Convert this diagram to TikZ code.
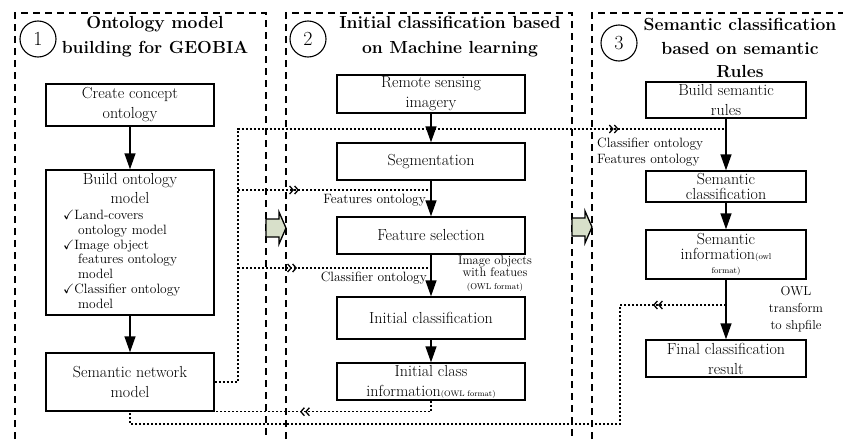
\documentclass[tikz,border=0pt]{standalone}
\usepackage{amssymb}
\usetikzlibrary{arrows.meta,decorations.markings,calc}
\definecolor{blockfill}{RGB}{216,224,202}
\tikzset{
  box/.style={draw, line width=1.4pt, rectangle, inner xsep=3pt, inner ysep=0pt, align=center, font=\fontsize{16}{20}\selectfont},
  flow/.style={line width=1.4pt, -{Triangle[length=16pt,width=11pt]}},
  dotline/.style={line width=1.1pt, dash pattern=on 2pt off 2pt},
  panel/.style={line width=1.3pt, dash pattern=on 7pt off 5pt},
  numcirc/.style={circle, draw, line width=1.1pt, minimum size=36pt, inner sep=0pt, font=\fontsize{20}{20}\selectfont},
  ttl/.style={font=\bfseries\fontsize{17.5}{25}\selectfont, align=center, inner sep=0pt},
  lab/.style={font=\fontsize{13.5}{16}\selectfont, inner sep=0pt},
  chev/.tip={Straight Barb[length=3.5pt,width=8pt,line width=1.3pt] Straight Barb[length=3.5pt,width=8pt,line width=1.3pt]},
  chevat/.style={postaction={decorate}, decoration={markings, mark=at position #1 with {\arrow{chev}}}},
  blockarrow/.style={draw, line width=1.3pt, fill=blockfill, line join=miter}
}
\begin{document}
\begin{tikzpicture}[x=1pt, y=-1pt]
\useasboundingbox (0,0) rectangle (843,439);

% panels
\draw[panel] (15,439) -- (15,13) -- (266,13) -- (266,439);
\draw[panel] (286,439) -- (286,13) -- (572,13) -- (572,439);
\draw[panel] (592,439) -- (592,13) -- (843,13);

% numbers and titles
\node[numcirc] (n1) at (38,39) {1};
\node[numcirc] (n2) at (308,39) {2};
\node[numcirc] (n3) at (619,43) {3};
\node[ttl] (t1) at (155,37) {Ontology model\\building for GEOBIA};
\node[ttl] (t2) at (450,37) {Initial classification based\\on Machine learning};
\node[ttl, font=\bfseries\fontsize{17.5}{23.5}\selectfont] (t3) at (740,48) {Semantic classification\\based on semantic\\Rules};

% block arrows
\draw[blockarrow] (266,219) -- (279,219) -- (279,212) -- (286,228) -- (279,244) -- (279,237) -- (266,237) -- cycle;
\draw[blockarrow] (572,218) -- (585,218) -- (585,211) -- (592,227) -- (585,243) -- (585,236) -- (572,236) -- cycle;

% panel 1
\node[box, minimum width=168pt, minimum height=42pt] (cco) at (130,105) {Create concept\\ontology};
\node[box, minimum width=168pt, minimum height=145pt] (bom) at (130,242.5) {};
\node[inner sep=0pt, align=center, anchor=north, font=\fontsize{16}{19}\selectfont] (bomt) at (130,173) {Build ontology\\model};
\node[inner sep=0pt, align=left, anchor=north west, font=\fontsize{13.5}{14.8}\selectfont] (boml) at (63,210)
  {$\checkmark$Land-covers\\\hspace*{15pt}ontology model\\$\checkmark$Image object\\\hspace*{15pt}features ontology\\\hspace*{15pt}model\\$\checkmark$Classifier ontology\\\hspace*{15pt}model};
\node[box, minimum width=168pt, minimum height=58pt] (snm) at (130,382) {Semantic network\\model};

% panel 2
\node[box, minimum width=188pt, minimum height=38pt] (rsi) at (431,94) {Remote sensing\\imagery};
\node[box, minimum width=188pt, minimum height=37pt] (seg) at (431,161.5) {Segmentation};
\node[box, minimum width=188pt, minimum height=37pt] (fs) at (431,235.5) {Feature selection};
\node[box, minimum width=188pt, minimum height=42pt] (ic) at (431,318) {Initial classification};
\node[box, minimum width=188pt, minimum height=37pt] (ici) at (431,381.5) {Initial class\\information{\fontsize{8}{9}\selectfont(OWL format)}};

% panel 3
\node[box, minimum width=160pt, minimum height=36pt] (bsr) at (726,100) {Build semantic\\rules};
\node[box, minimum width=160pt, minimum height=31pt, font=\fontsize{16}{15}\selectfont] (sc) at (726,186.5) {Semantic\\classification};
\node[box, minimum width=160pt, minimum height=49pt, font=\fontsize{16}{14.5}\selectfont] (si) at (726,254.5) {Semantic\\information{\fontsize{8.5}{9}\selectfont(owl}\\{\fontsize{8.5}{9}\selectfont format)}};
\node[box, minimum width=160pt, minimum height=37pt] (fcr) at (726,358.5) {Final classification\\result};

% flow arrows
\draw[flow] (cco) -- (bom);
\draw[flow] (bom) -- (snm);
\draw[flow] (rsi) -- (seg);
\draw[flow] (seg) -- (fs);
\draw[flow] (fs) -- (ic);
\draw[flow] (ic) -- (ici);
\draw[flow] (bsr) -- (sc);
\draw[flow] (sc) -- (si);
\draw[flow] (si) -- (fcr);

% labels
\node[lab, anchor=east] (flab) at (426,200) {Features ontology};
\node[lab, anchor=east] (clab) at (427,278) {Classifier ontology};
\node[inner sep=0pt, align=center, anchor=north, font=\fontsize{12.5}{12}\selectfont] (iolab) at (495,256) {Image objects\\with featues\\[1pt]{\fontsize{8.5}{9}\selectfont(OWL format)}};
\node[inner sep=0pt, align=center, font=\fontsize{13}{17}\selectfont] (owllab) at (796,309) {OWL\\transform\\to shpfile};
\node[lab, anchor=north west, align=left] (cflab) at (597,138) {Classifier ontology\\Features ontology};

% dotted connectors
\coordinate (ja) at (238,129);
\coordinate (jb) at (238,190);
\coordinate (jc) at (238,268);
\coordinate (jd) at (620,305);
\coordinate (je) at (620,424);
\draw[dotline, chevat=657pt] (snm.east) -| (ja) -- (bsr.south |- ja);
\draw[dotline, chevat=61pt] (jb) -- (seg.south |- jb);
\draw[dotline, chevat=59pt] (jc) -- (fs.south |- jc);
\draw[dotline, chevat=73pt] (si.south |- jd) -- (jd) -- (je) -| (snm.south);
\draw[dotline, chevat=142pt] (ici.south) |- (snm.south east);
\end{tikzpicture}
\end{document}
